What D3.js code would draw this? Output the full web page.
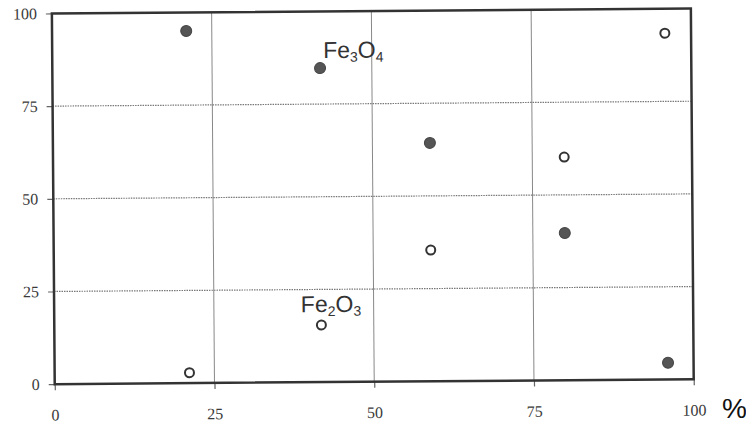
<!DOCTYPE html>
<html>
<head>
<meta charset="utf-8">
<script src="https://cdn.jsdelivr.net/npm/d3@7"></script>
<style>
  body { margin: 0; background: #fff; }
  svg { display: block; }
</style>
</head>
<body>
<div id="chart"></div>
<script>
// data
const filled_pts = [
    {x: 21.0, y: 95.0},
    {x: 41.9, y: 84.7},
    {x: 59.0, y: 64.3},
    {x: 80.0, y: 39.7},
    {x: 96.0, y: 4.5}
];
const open_pts = [
    {x: 21.1, y: 2.8},
    {x: 41.8, y: 15.4},
    {x: 59.0, y: 35.4},
    {x: 80.0, y: 60.2},
    {x: 95.9, y: 93.4}
];
const x_ticks = [0, 25, 50, 75, 100];
const y_ticks = [0, 25, 50, 75, 100];
const grid_vals = [25, 50, 75];
const labels = [
    {name: "Fe", sub1: "3", mid: "O", sub2: "4", x: 42.4, y: 87.4},
    {name: "Fe", sub1: "2", mid: "O", sub2: "3", x: 38.6, y: 18.9}
];

const width = 746;
const height = 423;
const margin = {left: 53.3, right: 53.7, top: 11, bottom: 41.3};

const svg = d3.select("#chart").append("svg")
    .attr("width", width)
    .attr("height", height);

const scale_x = d3.scaleLinear().domain([0, 100]).range([margin.left, width - margin.right]);
const scale_y = d3.scaleLinear().domain([0, 100]).range([height - margin.bottom, margin.top]);

// the scanned figure sits slightly tilted
const plot = svg.append("g")
    .attr("transform", "rotate(-0.44," + scale_x(50) + "," + scale_y(50) + ")");

// grid
plot.append("g").selectAll("line")
    .data(grid_vals).join("line")
    .attr("x1", d => scale_x(d)).attr("x2", d => scale_x(d))
    .attr("y1", scale_y(100)).attr("y2", scale_y(0))
    .attr("stroke", "#888").attr("stroke-width", 1);

plot.append("g").selectAll("line")
    .data(grid_vals).join("line")
    .attr("x1", scale_x(0)).attr("x2", scale_x(100))
    .attr("y1", d => scale_y(d)).attr("y2", d => scale_y(d))
    .attr("stroke", "#777").attr("stroke-width", 1.2)
    .attr("stroke-dasharray", "1.5,1");

// axes
const ax_left = plot.append("g")
    .attr("transform", "translate(" + scale_x(0) + ",0)")
    .call(d3.axisLeft(scale_y).tickValues(y_ticks).tickSize(6).tickPadding(9));
const ax_bottom = plot.append("g")
    .attr("transform", "translate(0," + scale_y(0) + ")")
    .call(d3.axisBottom(scale_x).tickValues(x_ticks).tickSize(6).tickPadding(19));

[ax_left, ax_bottom].forEach(ax => {
    ax.select(".domain").remove();
    ax.selectAll(".tick line").attr("stroke", "#666").attr("stroke-width", 1.2);
    ax.selectAll(".tick text")
        .attr("font-family", "'Liberation Serif', 'DejaVu Serif', serif")
        .attr("font-size", 16)
        .attr("fill", "#3a3a3a");
});

// frame
plot.append("rect")
    .attr("x", scale_x(0)).attr("y", scale_y(100))
    .attr("width", scale_x(100) - scale_x(0))
    .attr("height", scale_y(0) - scale_y(100))
    .attr("fill", "none")
    .attr("stroke", "#333")
    .attr("stroke-width", 2.5);

// points
plot.append("g").selectAll("circle")
    .data(filled_pts).join("circle")
    .attr("cx", d => scale_x(d.x)).attr("cy", d => scale_y(d.y))
    .attr("r", 5.5)
    .attr("fill", "#555")
    .attr("stroke", "#444").attr("stroke-width", 1);

plot.append("g").selectAll("circle")
    .data(open_pts).join("circle")
    .attr("cx", d => scale_x(d.x)).attr("cy", d => scale_y(d.y))
    .attr("r", 4.5)
    .attr("fill", "#fff")
    .attr("stroke", "#333").attr("stroke-width", 2);

// formula labels
labels.forEach(l => {
    let t = plot.append("text")
        .attr("x", scale_x(l.x)).attr("y", scale_y(l.y))
        .attr("font-family", "'Liberation Sans', Arial, sans-serif")
        .attr("font-size", 23)
        .attr("fill", "#333");
    t.append("tspan").text(l.name);
    t.append("tspan").attr("font-size", 14).attr("dy", 4).text(l.sub1);
    t.append("tspan").attr("dy", -4).text(l.mid);
    t.append("tspan").attr("font-size", 14).attr("dy", 4).text(l.sub2);
});

// unit
svg.append("text")
    .attr("x", 722).attr("y", 418)
    .attr("font-family", "'Liberation Sans', Arial, sans-serif")
    .attr("font-size", 28)
    .attr("fill", "#111")
    .text("%");
</script>
</body>
</html>
